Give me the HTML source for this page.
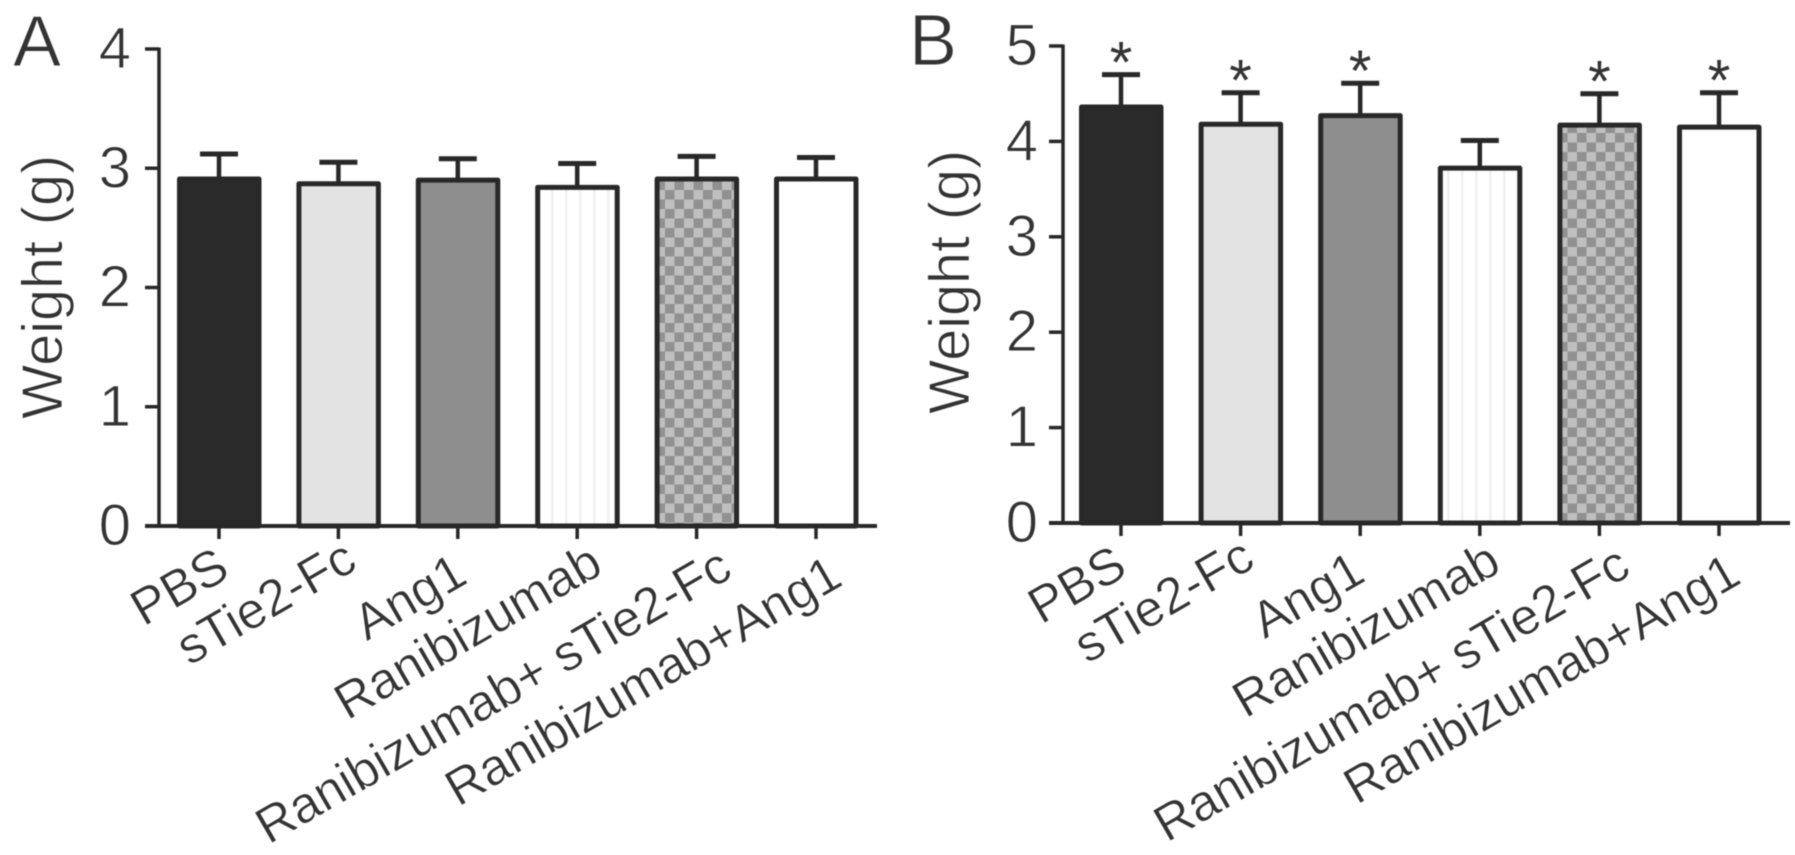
<!DOCTYPE html>
<html lang="en">
<head>
<meta charset="utf-8">
<title>Weight bar charts</title>
<style>
html,body{margin:0;padding:0;background:#fff;width:1795px;height:855px;overflow:hidden}
svg{display:block;filter:blur(.45px)}
text{font-family:"Liberation Sans",Arial,sans-serif;fill:#333}
.thin{stroke:#fff;stroke-width:.9px}
.thinner{stroke:#fff;stroke-width:.6px}
</style>
</head>
<body>
<svg id="figure" xmlns="http://www.w3.org/2000/svg" width="1795" height="855" viewBox="0 0 1795 855">
  <defs>
    <pattern id="checker" patternUnits="userSpaceOnUse" width="19" height="19">
      <rect width="19" height="19" fill="#bfbfbf"/>
      <rect width="9.5" height="9.5" fill="#919191"/>
      <rect x="9.5" y="9.5" width="9.5" height="9.5" fill="#919191"/>
    </pattern>
    <pattern id="stripes" patternUnits="userSpaceOnUse" width="14" height="14">
      <rect width="14" height="14" fill="#fff"/>
      <rect x="5" width="2.5" height="14" fill="#f0f0f0"/>
    </pattern>
  </defs>
  <rect width="1795" height="855" fill="#fff"/>
  <g id="panel-a">
    <text x="13" y="66" font-size="72" class="thin">A</text>
    <text transform="translate(62 419) rotate(-90)" font-size="57.5" class="thin">Weight (g)</text>
  </g>
  <g id="panel-b">
    <text x="909" y="65" font-size="72" class="thin">B</text>
    <text transform="translate(969 414) rotate(-90)" font-size="57.5" class="thin">Weight (g)</text>
  </g>
</svg>
<script>
const categories = ["PBS", "sTie2-Fc", "Ang1", "Ranibizumab", "Ranibizumab+ sTie2-Fc", "Ranibizumab+Ang1"];
const panelAMeans = [2.91, 2.87, 2.90, 2.84, 2.91, 2.91];
const panelAErrorTops = [3.12, 3.05, 3.08, 3.04, 3.10, 3.09];
const panelATicks = [0, 1, 2, 3, 4];
const panelBMeans = [4.36, 4.18, 4.27, 3.72, 4.17, 4.15];
const panelBErrorTops = [4.70, 4.51, 4.61, 4.01, 4.50, 4.51];
const panelBTicks = [0, 1, 2, 3, 4, 5];
const panelBSignificant = [1, 1, 1, 0, 1, 1];
const barFills = ["#2a2a2a", "#e3e3e3", "#8e8e8e", "url(#stripes)", "url(#checker)", "#ffffff"];

const NS = "http://www.w3.org/2000/svg";
const INK = "#282828";

function make(parent, tag, attrs, text) {
  const el = document.createElementNS(NS, tag);
  for (const k in attrs) el.setAttribute(k, attrs[k]);
  if (text !== undefined) el.textContent = text;
  parent.appendChild(el);
  return el;
}

function drawPanel(cfg) {
  const g = document.getElementById(cfg.id);
  const maxTick = cfg.ticks[cfg.ticks.length - 1];
  const yScale = v => cfg.y0 - v * (cfg.y0 - cfg.yTop) / maxTick;
  const xScale = i => cfg.x0 + i * cfg.step;
  // Fine layout offsets for the slanted labels, which sit unevenly in the figure.
  const labelShiftX = [11, 19, 10, 26, 36, 27];
  const labelShiftY = [51, 43, 57, 47, 51, 59];

  categories.forEach((name, i) => {
    const cx = xScale(i);
    const stem = make(g, "line", {x1: cx, x2: cx, y1: yScale(cfg.means[i]), y2: yScale(cfg.errors[i]), stroke: INK, "stroke-width": 4.5});
    
    
    const cap = make(g, "line", {x1: cx - 19, x2: cx + 19, y1: yScale(cfg.errors[i]), y2: yScale(cfg.errors[i]), stroke: INK, "stroke-width": 5});
    
    
    const bar = make(g, "rect", {x: cx - 39.5, y: yScale(cfg.means[i]), width: 79.5, height: cfg.y0 - yScale(cfg.means[i]), fill: barFills[i], stroke: INK, "stroke-width": 5, "stroke-linejoin": "round"});
    
    
    if (cfg.significant && cfg.significant[i]) {
      const star = make(g, "text", {x: cx, y: yScale(cfg.errors[i]) + 8, "font-size": 58, "text-anchor": "middle"}, "*");
      
      
    }
    const tick = make(g, "line", {x1: cx, x2: cx, y1: cfg.y0, y2: cfg.y0 + 13, stroke: INK, "stroke-width": 3.5});
    
    
    const label = make(g, "text", {transform: "translate(" + (cx + cfg.labelDx + labelShiftX[i]) + " " + (cfg.y0 + cfg.labelDy + labelShiftY[i]) + ") rotate(-30)", "font-size": 51, "text-anchor": "end", class: "thinner"}, name);
    
    
  });

  const yAxis = make(g, "line", {x1: cfg.axisX, x2: cfg.axisX, y1: cfg.yTop - 1.5, y2: cfg.y0, stroke: INK, "stroke-width": 3.5});
  
  
  const xAxis = make(g, "line", {x1: cfg.axisX - 14, x2: cfg.xEnd, y1: cfg.y0, y2: cfg.y0, stroke: INK, "stroke-width": 4});
  
  

  cfg.ticks.forEach(t => {
    const y = yScale(t);
    const tick = make(g, "line", {x1: cfg.axisX - 14, x2: cfg.axisX, y1: y, y2: y, stroke: INK, "stroke-width": 3.5});
    
    
    const label = make(g, "text", {x: cfg.axisX - cfg.tickLabelGap, y: y + 19, "font-size": 58, "text-anchor": "end", class: "thin"}, String(t));
    
    
  });
}

drawPanel({id: "panel-a", means: panelAMeans, errors: panelAErrorTops, ticks: panelATicks, y0: 526, yTop: 49, x0: 219, step: 119.4, axisX: 159, xEnd: 877, labelDx: 2, labelDy: -1, tickLabelGap: 28});
drawPanel({id: "panel-b", means: panelBMeans, errors: panelBErrorTops, ticks: panelBTicks, significant: panelBSignificant, y0: 523, yTop: 46, x0: 1121, step: 119.6, axisX: 1063, xEnd: 1790, labelDx: -2.5, labelDy: 0, tickLabelGap: 25});
</script>
</body>
</html>
